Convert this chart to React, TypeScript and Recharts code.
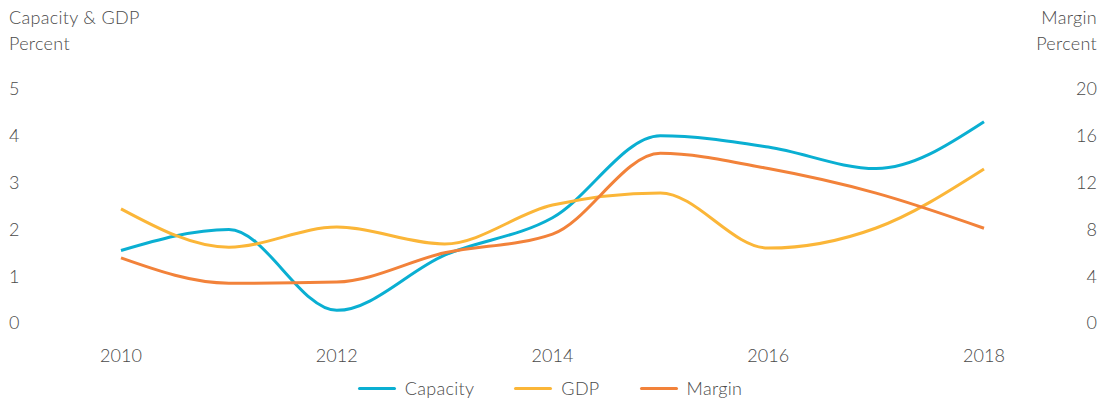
import React from 'react';
import { LineChart, Line, XAxis, YAxis } from 'recharts';

const years = [2010, 2011, 2012, 2013, 2014, 2015, 2016, 2017, 2018];
const capacity = [1.55, 2.0, 0.27, 1.45, 2.25, 4.0, 3.76, 3.3, 4.3];
const gdp = [2.44, 1.62, 2.05, 1.69, 2.52, 2.78, 1.6, 2.03, 3.29];
const margin = [5.56, 3.4, 3.5, 6.0, 7.6, 14.5, 13.2, 11.1, 8.1];

const xTicks = [2010, 2012, 2014, 2016, 2018];
const leftTicks = [0, 1, 2, 3, 4, 5];
const rightTicks = [0, 4, 8, 12, 16, 20];

const COLORS = { capacity: '#0AAFD2', gdp: '#FBB638', margin: '#F2823A' };
const TEXT = '#4a4a4a';
const FONT = 'Lato, "Open Sans", sans-serif';
const SIZE = 18;
const WEIGHT = 300;

const data = years.map((year, i) => ({
    year,
    capacity: capacity[i],
    gdp: gdp[i],
    margin: margin[i],
}));

const LeftTick = (props: any) => (
    <text x={9} y={props.y} dy="0.35em" textAnchor="start" fill={TEXT} fontSize={SIZE} fontWeight={WEIGHT} fontFamily={FONT}>
        {props.payload.value}
    </text>
);

const RightTick = (props: any) => (
    <text x={1097} y={props.y} dy="0.35em" textAnchor="end" fill={TEXT} fontSize={SIZE} fontWeight={WEIGHT} fontFamily={FONT}>
        {props.payload.value}
    </text>
);

const legendItems = [
    { name: 'Capacity', color: COLORS.capacity },
    { name: 'GDP', color: COLORS.gdp },
    { name: 'Margin', color: COLORS.margin },
];

export default function App() {
    return (
        <div style={{ position: 'absolute', left: 0, top: 0, width: 1114, height: 403, background: '#fff', fontFamily: FONT, fontWeight: WEIGHT, color: TEXT }}>
            <div style={{ position: 'absolute', left: 9, top: 4, fontSize: SIZE, lineHeight: '26px', letterSpacing: 0.3 }}>
                Capacity &amp; GDP
                <br />
                Percent
            </div>
            <div style={{ position: 'absolute', right: 17, top: 4, fontSize: SIZE, lineHeight: '26px', textAlign: 'right', letterSpacing: 0.3 }}>
                Margin
                <br />
                Percent
            </div>
            <LineChart width={1114} height={403} data={data} margin={{ top: 89, right: 70, bottom: 40, left: 61 }}>
                <XAxis
                    dataKey="year"
                    type="number"
                    domain={[2010, 2018]}
                    ticks={xTicks}
                    axisLine={false}
                    tickLine={false}
                    tickMargin={20}
                    height={40}
                    tick={{ fill: TEXT, fontSize: SIZE, fontWeight: WEIGHT, fontFamily: FONT }}
                />
                <YAxis
                    yAxisId="left"
                    domain={[0, 5]}
                    ticks={leftTicks}
                    axisLine={false}
                    tickLine={false}
                    width={60}
                    tick={<LeftTick />}
                />
                <YAxis
                    yAxisId="right"
                    orientation="right"
                    domain={[0, 20]}
                    ticks={rightTicks}
                    axisLine={false}
                    tickLine={false}
                    width={60}
                    tick={<RightTick />}
                />
                <Line yAxisId="left" type="monotone" dataKey="capacity" name="Capacity" stroke={COLORS.capacity} strokeWidth={3} dot={false} isAnimationActive={false} />
                <Line yAxisId="left" type="monotone" dataKey="gdp" name="GDP" stroke={COLORS.gdp} strokeWidth={3} dot={false} isAnimationActive={false} />
                <Line yAxisId="right" type="monotone" dataKey="margin" name="Margin" stroke={COLORS.margin} strokeWidth={3} dot={false} isAnimationActive={false} />
            </LineChart>
            <div style={{ position: 'absolute', left: 0, width: 1100, top: 376, display: 'flex', justifyContent: 'center', fontSize: SIZE, lineHeight: '24px', letterSpacing: 0.3 }}>
                {legendItems.map((item, i) => (
                    <div key={item.name} style={{ display: 'flex', alignItems: 'center', marginLeft: i === 0 ? 0 : 40 }}>
                        <span style={{ display: 'inline-block', width: 38, height: 3, borderRadius: 2, background: item.color, marginRight: 9 }} />
                        {item.name}
                    </div>
                ))}
            </div>
        </div>
    );
}
